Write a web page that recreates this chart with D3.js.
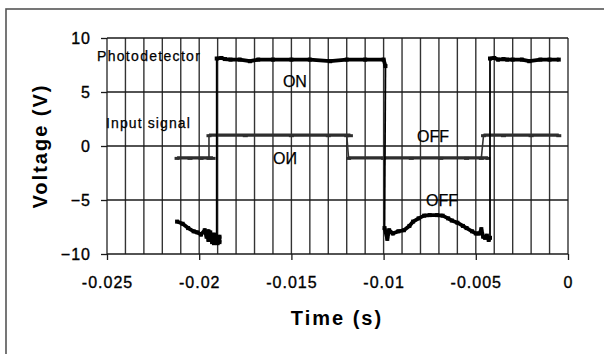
<!DOCTYPE html>
<html>
<head>
<meta charset="utf-8">
<script src="https://cdn.jsdelivr.net/npm/d3@7"></script>
<style>
  body { margin: 0; background: #fff; }
  svg { display: block; font-family: 'Liberation Sans', Arial, sans-serif; }
</style>
</head>
<body>
<div id="chart"></div>
<script>
// Time (s) / Voltage (V)
const xTicks = [-0.025, -0.02, -0.015, -0.01, -0.005, 0]
const yTicks = [-10, -5, 0, 5, 10]

// photodetector plateaus (thick) - consecutive segments are joined by thin jumps
const photoLow1 = [
  [-0.0212, -7.0], [-0.0209, -7.2], [-0.0206, -7.6], [-0.0203, -7.9], [-0.0201, -8.0],
  [-0.0199, -8.2], [-0.0197, -7.8], [-0.0196, -8.4], [-0.0195, -7.9], [-0.0195, -8.7],
  [-0.0194, -8.0], [-0.0193, -8.9], [-0.0192, -8.2], [-0.0192, -9.0], [-0.0191, -8.3],
  [-0.0190, -9.0], [-0.0189, -8.4], [-0.0189, -8.9], [-0.01905, -8.6]
]
const photoHigh1 = [
  [-0.01905, 8.1], [-0.0188, 8.15], [-0.0186, 8.05], [-0.0183, 8.0], [-0.0178, 8.0],
  [-0.01725, 7.85], [-0.0168, 8.0], [-0.0160, 8.0], [-0.0150, 8.0], [-0.0140, 8.0],
  [-0.0129, 7.85], [-0.0120, 8.0], [-0.0110, 8.0], [-0.0100, 8.0], [-0.0099, 7.4]
]
const photoLow2 = [
  [-0.00995, -7.6], [-0.0098, -8.6], [-0.0097, -7.8], [-0.0095, -8.1], [-0.0092, -7.9],
  [-0.0089, -7.8], [-0.0086, -7.4], [-0.0084, -7.0], [-0.0081, -6.7], [-0.0078, -6.45],
  [-0.0075, -6.4], [-0.0071, -6.4], [-0.0068, -6.45], [-0.0065, -6.7], [-0.0063, -6.9],
  [-0.0060, -7.1], [-0.0057, -7.4], [-0.0055, -7.6], [-0.0052, -7.9], [-0.0050, -8.1],
  [-0.0048, -8.1], [-0.0047, -7.7], [-0.0046, -8.4], [-0.0045, -8.5], [-0.0044, -8.3],
  [-0.0043, -8.7], [-0.00423, -8.5]
]
const photoHigh2 = [
  [-0.00423, 8.1], [-0.0040, 8.15], [-0.0038, 8.0], [-0.0035, 8.05], [-0.0033, 8.0],
  [-0.0030, 8.0], [-0.0025, 8.0], [-0.0021, 7.85], [-0.0015, 8.0], [-0.0010, 8.0], [-0.0005, 8.0]
]

const inputT = [-0.0212, -0.0205, -0.0199, -0.01925, -0.01947, -0.01947, -0.0175, -0.0150, -0.0130, -0.0118, -0.0120, -0.0119, -0.0100, -0.0085, -0.0069, -0.0055, -0.00434, -0.0047, -0.00458, -0.0035, -0.0020, -0.0005]
const inputV = [-1.1, -1.1, -1.1, -1.1, -1.1, 1.0, 1.0, 1.0, 1.0, 1.0, 1.0, -1.1, -1.1, -1.1, -1.1, -1.1, -1.1, -1.1, 1.0, 1.0, 1.0, 1.0]

const labels = [
  { text: 'Photodetector', x: -0.02554, y: 7.9, size: 14, ls: 1.3 },
  { text: 'Input signal', x: -0.02505, y: 1.7, size: 14, ls: 1.1 },
  { text: 'ON', x: -0.01546, y: 5.45, size: 16, ls: 0 },
  { text: 'OFF', x: -0.00819, y: 0.35, size: 16, ls: 0 },
  { text: 'OFF', x: -0.0077, y: -5.55, size: 16, ls: 0 }
]

const W = 604, H = 354
const margin = { top: 38, right: 36, bottom: 100, left: 107 }
const iw = W - margin.left - margin.right
const ih = H - margin.top - margin.bottom

const svg = d3.select('#chart').append('svg')
  .attr('width', W)
  .attr('height', H)

// outer frame of the scanned figure
svg.append('rect')
  .attr('x', 6).attr('y', 9)
  .attr('width', 700).attr('height', 500)
  .attr('fill', 'none')
  .attr('stroke', '#555')
  .attr('stroke-width', 1.6)

const g = svg.append('g').attr('transform', `translate(${margin.left},${margin.top})`)

const x = d3.scaleLinear().domain([-0.025, 0]).range([0, iw])
const y = d3.scaleLinear().domain([-10, 10]).range([ih, 0])

// vertical grid every 0.001 s
g.append('g')
  .selectAll('line')
  .data(d3.range(0, 26).map(i => -0.025 + i * 0.001))
  .join('line')
  .attr('x1', d => x(d)).attr('x2', d => x(d))
  .attr('y1', 0).attr('y2', ih)
  .attr('stroke', '#333')
  .attr('stroke-width', 1.4)

// horizontal grid
g.append('g')
  .selectAll('line')
  .data(yTicks)
  .join('line')
  .attr('x1', 0).attr('x2', iw)
  .attr('y1', d => y(d)).attr('y2', d => y(d))
  .attr('stroke', '#1a1a1a')
  .attr('stroke-width', 1.3)

// axes
const xAxis = g.append('g')
  .attr('transform', `translate(0,${ih})`)
  .call(d3.axisBottom(x).tickValues(xTicks).tickSize(6).tickPadding(12)
    .tickFormat(d => String(+d.toFixed(3))))
xAxis.select('.domain').remove()

const yAxis = g.append('g')
  .call(d3.axisLeft(y).tickValues(yTicks).tickSize(6).tickPadding(10))
yAxis.select('.domain').remove()

for (const ax of [xAxis, yAxis]) {
  ax.selectAll('.tick line').attr('stroke', '#1a1a1a').attr('stroke-width', 1.3)
  ax.selectAll('.tick text')
    .attr('fill', '#000')
    .attr('stroke', '#000')
    .attr('stroke-width', 0.35)
    .style('font-size', '16px')
    .style('letter-spacing', '1px')
    .style('font-family', "'Liberation Sans', Arial, sans-serif")
}
xAxis.selectAll('.tick text').attr('dy', '1em')

// series
const line = d3.line().x(d => x(d[0])).y(d => y(d[1]))

// input signal
const inputPts = inputT.map((t, i) => [t, inputV[i]])
g.append('path')
  .datum(inputPts)
  .attr('d', line)
  .attr('fill', 'none')
  .attr('stroke', '#333')
  .attr('stroke-width', 1.6)
// plateaus drawn heavier, jumps stay thin
const inputPlateaus = [inputPts.slice(0, 4), inputPts.slice(5, 11), inputPts.slice(11, 17), inputPts.slice(18)]
g.append('g')
  .selectAll('path')
  .data(inputPlateaus)
  .join('path')
  .attr('d', line)
  .attr('fill', 'none')
  .attr('stroke', '#2e2e2e')
  .attr('stroke-width', 3.2)
g.append('g')
  .selectAll('rect')
  .data(inputPts)
  .join('rect')
  .attr('x', d => x(d[0]) - 2.5)
  .attr('y', d => y(d[1]) - 1)
  .attr('width', 5)
  .attr('height', 3)
  .attr('fill', '#2e2e2e')

// photodetector
const photoSegs = [photoLow1, photoHigh1, photoLow2, photoHigh2]
const jumps = d3.pairs(photoSegs).map(([a, b]) => [a[a.length - 1], b[0]])
g.append('g')
  .selectAll('path')
  .data(jumps)
  .join('path')
  .attr('d', line)
  .attr('fill', 'none')
  .attr('stroke', '#000')
  .attr('stroke-width', 1.8)
g.append('g')
  .selectAll('path')
  .data(photoSegs)
  .join('path')
  .attr('d', line)
  .attr('fill', 'none')
  .attr('stroke', '#000')
  .attr('stroke-width', 3.8)
  .attr('stroke-linejoin', 'round')
g.append('g')
  .selectAll('rect')
  .data(photoSegs.flat())
  .join('rect')
  .attr('x', d => x(d[0]) - 2)
  .attr('y', d => y(d[1]) - 2)
  .attr('width', 4)
  .attr('height', 4)
  .attr('fill', '#000')

// annotations
g.append('g')
  .selectAll('text')
  .data(labels)
  .join('text')
  .attr('x', d => x(d.x))
  .attr('y', d => y(d.y))
  .attr('fill', '#000')
  .attr('stroke', '#000')
  .attr('stroke-width', 0.25)
  .style('font-size', d => d.size + 'px')
  .style('letter-spacing', d => d.ls + 'px')
  .text(d => d.text)

// the lower ON is printed flipped in the original
g.append('text')
  .attr('transform', `translate(${x(-0.016)},${y(-0.55)}) scale(1,-1)`)
  .attr('fill', '#000')
  .attr('stroke', '#000')
  .attr('stroke-width', 0.25)
  .style('font-size', '16px')
  .text('ON')

// axis titles
svg.append('text')
  .attr('transform', `translate(47,${margin.top + ih / 2}) rotate(-90)`)
  .attr('text-anchor', 'middle')
  .style('font-size', '20px')
  .style('font-weight', 'bold')
  .style('letter-spacing', '2px')
  .text('Voltage (V)')

svg.append('text')
  .attr('x', 337)
  .attr('y', 325)
  .attr('text-anchor', 'middle')
  .style('font-size', '20px')
  .style('font-weight', 'bold')
  .style('letter-spacing', '2px')
  .text('Time (s)')
</script>
</body>
</html>
